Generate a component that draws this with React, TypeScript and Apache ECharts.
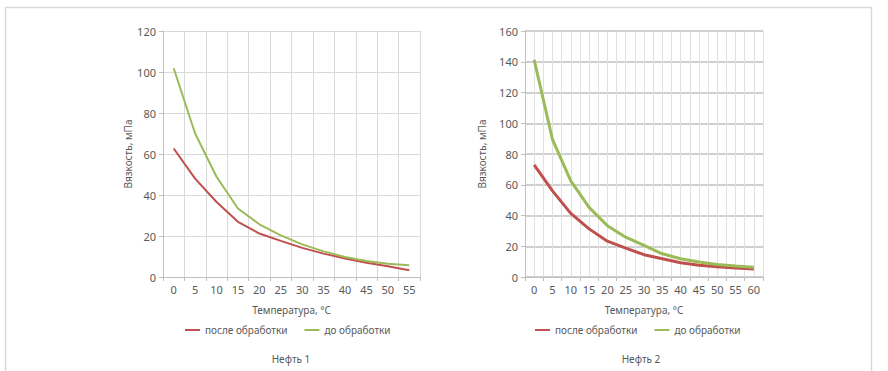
import React, { useEffect, useRef } from "react";
import * as echarts from "echarts";

const tempsLeft = ["0", "5", "10", "15", "20", "25", "30", "35", "40", "45", "50", "55"];
const afterLeft = [62.7, 48, 36.6, 26.9, 21.2, 17.6, 14.2, 11.4, 9, 7, 5.2, 3.3];
const beforeLeft = [101.8, 70, 48.9, 33.4, 25.7, 20.3, 15.9, 12.5, 9.8, 7.8, 6.5, 5.7];

const tempsRight = ["0", "5", "10", "15", "20", "25", "30", "35", "40", "45", "50", "55", "60"];
const afterRight = [72.9, 56, 41.4, 31.3, 23.3, 18.8, 14.5, 11.9, 9.3, 7.6, 6.7, 5.8, 5.2];
const beforeRight = [141.3, 89.5, 62.5, 45.3, 33.4, 25.9, 20.5, 15.1, 11.9, 9.7, 8.2, 7.1, 6.3];

const seriesNames = ["после обработки", "до обработки"];
const titles = ["Нефть 1", "Нефть 2"];
const xName = "Температура, °C";
const yName = "Вязкость, мПа";

const RED = "#c0504d";
const GREEN = "#9bbb59";
const FONT = "Noto Sans";
const LABEL = "#595959";

export default function App() {
  const ref = useRef<HTMLDivElement>(null);
  useEffect(() => {
    if (!ref.current) return;
    const chart = echarts.init(ref.current, undefined, { renderer: "svg" });
    const catAxis = (gridIndex: number, data: string[]) => ({
      type: "category",
      gridIndex,
      data,
      boundaryGap: true,
      name: xName,
      nameLocation: "middle",
      nameGap: 28,
      nameTextStyle: { color: LABEL, fontSize: 10, fontFamily: FONT },
      axisLine: { show: true, lineStyle: { color: "#bfbfbf" } },
      axisTick: { show: true, length: 4, lineStyle: { color: "#bfbfbf" } },
      axisLabel: { interval: 0, margin: 7, color: LABEL, fontSize: 11, fontFamily: FONT },
      splitLine: { show: gridIndex === 0, lineStyle: { color: "#d9d9d9", width: 1 } },
    });
    const valAxis = (gridIndex: number, max: number, nameGap: number, gridColor: string, gridWidth: number) => ({
      type: "value",
      gridIndex,
      min: 0,
      max,
      interval: 20,
      name: yName,
      nameLocation: "middle",
      nameGap,
      nameTextStyle: { color: LABEL, fontSize: 10, fontFamily: FONT },
      axisLine: { show: true, lineStyle: { color: "#bfbfbf" } },
      axisTick: { show: true, length: 4, lineStyle: { color: "#bfbfbf" } },
      axisLabel: { margin: 7, color: LABEL, fontSize: 11, fontFamily: FONT },
      splitLine: { show: true, lineStyle: { color: gridColor, width: gridWidth } },
    });
    const legend = (left: number) => ({
      left,
      top: 320,
      icon: "rect",
      itemWidth: 15,
      itemHeight: 2,
      itemGap: 17,
      data: seriesNames,
      textStyle: { color: LABEL, fontSize: 10, fontFamily: FONT },
    });
    chart.setOption({
      animation: false,
      grid: [
        { left: 163, top: 31, width: 257, height: 246 },
        { left: 525, top: 31, width: 238, height: 246 },
      ],
      xAxis: [
        catAxis(0, tempsLeft),
        catAxis(1, tempsRight),
        {
          type: "value",
          gridIndex: 1,
          min: 0,
          max: tempsRight.length * 2,
          interval: 1,
          axisLine: { show: false },
          axisTick: { show: false },
          axisLabel: { show: false },
          splitLine: { show: true, lineStyle: { color: "#e0e0e0", width: 1 } },
        },
      ],
      yAxis: [
        valAxis(0, 120, 30, "#d9d9d9", 1),
        valAxis(1, 160, 38, "#bfbfbf", 1.5),
      ],
      legend: [legend(180), legend(530)],
      series: [
        { name: seriesNames[0], type: "line", xAxisIndex: 0, yAxisIndex: 0, data: afterLeft, showSymbol: false, lineStyle: { color: RED, width: 2 }, itemStyle: { color: RED }, z: 3 },
        { name: seriesNames[1], type: "line", xAxisIndex: 0, yAxisIndex: 0, data: beforeLeft, showSymbol: false, lineStyle: { color: GREEN, width: 2 }, itemStyle: { color: GREEN }, z: 3 },
        { name: seriesNames[0], type: "line", xAxisIndex: 1, yAxisIndex: 1, data: afterRight, showSymbol: false, lineStyle: { color: RED, width: 3 }, itemStyle: { color: RED }, z: 3 },
        { name: seriesNames[1], type: "line", xAxisIndex: 1, yAxisIndex: 1, data: beforeRight, showSymbol: false, lineStyle: { color: GREEN, width: 3 }, itemStyle: { color: GREEN }, z: 3 },
      ],
      graphic: [
        { type: "rect", shape: { x: 5.5, y: 7.5, width: 866, height: 420 }, style: { fill: "none", stroke: "#d9d9d9", lineWidth: 1.5 }, silent: true },
        { type: "text", x: 291, y: 359, style: { text: titles[0], fill: LABEL, fontSize: 10, fontFamily: FONT, textAlign: "center", textVerticalAlign: "middle" } },
        { type: "text", x: 641, y: 359, style: { text: titles[1], fill: LABEL, fontSize: 10, fontFamily: FONT, textAlign: "center", textVerticalAlign: "middle" } },
      ],
    });
    return () => chart.dispose();
  }, []);
  return <div ref={ref} style={{ position: "absolute", left: 0, top: 0, width: 888, height: 371, background: "#fff" }} />;
}
